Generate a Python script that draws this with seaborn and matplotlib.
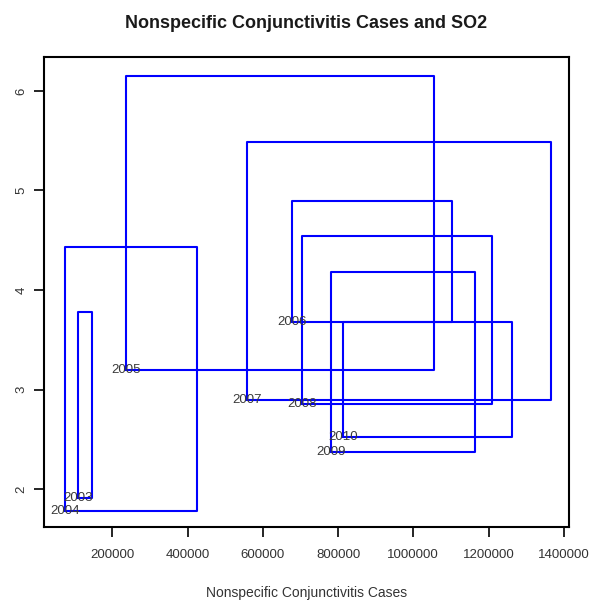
import pandas as pd
import matplotlib
matplotlib.use("Agg")
import matplotlib.pyplot as plt
import seaborn as sns

# valores (esquina inferior izquierda y superior derecha)
years = ["2003", "2004", "2005", "2006", "2007", "2008", "2009", "2010"]
x_low = [108000, 73700, 236000, 677000, 557000, 703000, 781000, 813000]
x_high = [145700, 424700, 1055000, 1102000, 1366000, 1209000, 1164000, 1262000]
y_low = [1.91, 1.78, 3.20, 3.68, 2.90, 2.86, 2.37, 2.52]
y_high = [3.78, 4.43, 6.15, 4.89, 5.49, 4.54, 4.18, 3.68]

x_ticks = [200000, 400000, 600000, 800000, 1000000, 1200000, 1400000]
y_ticks = [2, 3, 4, 5, 6]

#armamos los recorridos de cada rectangulo
rows = []
for i in range(len(years)):
    path = [(x_low[i], y_low[i]), (x_low[i], y_high[i]), (x_high[i], y_high[i]),
            (x_high[i], y_low[i]), (x_low[i], y_low[i])]
    for k, (px, py) in enumerate(path):
        rows.append({"year": years[i], "order": k, "cases": px, "so2": py})
df = pd.DataFrame(rows)

sns.set_style("white")
plt.rcParams["font.family"] = ["Liberation Sans", "DejaVu Sans"]

fig = plt.figure(figsize=(5.92, 6.0), dpi=100)
ax = fig.add_axes([0.0743, 0.1217, 0.8868, 0.7833])

sns.lineplot(data=df, x="cases", y="so2", units="year", estimator=None,
             sort=False, color="blue", linewidth=1.5, ax=ax)

for i in range(len(years)):
    ax.text(x_low[i], y_low[i], years[i], ha="center", va="center",
            fontsize=9.5, color="#3a3a3a")

ax.set_xlim(17800, 1414000)
ax.set_ylim(1.62, 6.34)
ax.set_xticks(x_ticks)
ax.set_xticklabels([str(t) for t in x_ticks], fontsize=9.5, color="#333333")
ax.set_yticks(y_ticks)
ax.set_yticklabels([str(t) for t in y_ticks], fontsize=9.5, color="#333333",
                   rotation=90, va="center")
ax.tick_params(axis="both", direction="out", length=7, width=1.2, colors="black",
               labelcolor="#333333", bottom=True, left=True)
ax.tick_params(axis="x", pad=9)
ax.tick_params(axis="y", pad=5)
for s in ax.spines.values():
    s.set_color("black")
    s.set_linewidth(1.5)

ax.set_xlabel("Nonspecific Conjunctivitis Cases", fontsize=10, color="#333333", labelpad=18)
ax.set_ylabel("")
ax.set_title("Nonspecific Conjunctivitis Cases and SO2", fontsize=13, fontweight="bold",
             color="#1a1a1a", pad=21)

fig.savefig("out.png", dpi=100)
